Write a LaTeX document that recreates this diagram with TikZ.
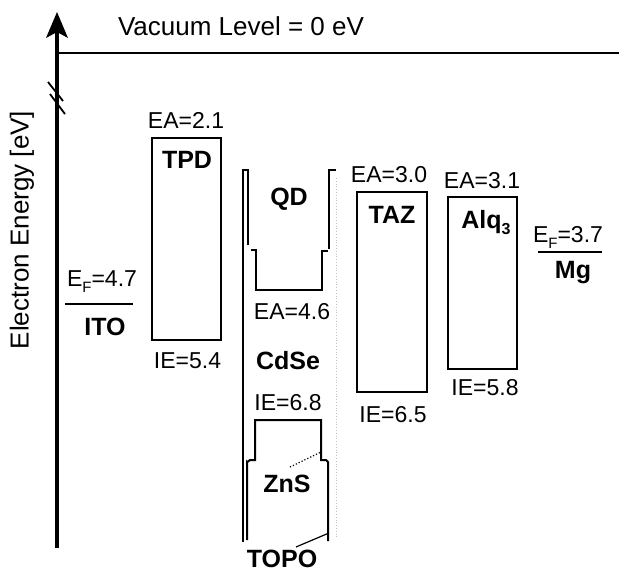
\documentclass[tikz,border=0pt]{standalone}
\usepackage{fontspec}
\setmainfont{Liberation Sans}
\newcommand{\subF}{\raisebox{-0.28em}{\fontsize{15}{15}\selectfont F}}
\begin{document}
\begin{tikzpicture}[x=1pt,y=-1pt,
  lab/.style={anchor=base,inner sep=0pt,font=\fontsize{23}{23}\selectfont},
  mat/.style={anchor=base,inner sep=0pt,font=\fontsize{25}{25}\selectfont\bfseries},
  band/.style={line width=2pt,line join=miter},
  thinl/.style={line width=1.2pt}]
\useasboundingbox (0,0) rectangle (619,573);

% energy axis
\coordinate (axb) at (56.5,548);
\coordinate (axt) at (56.5,32);
\coordinate (tip) at (57,12);
\draw[line width=4pt] (axb) -- (axt);
\fill (tip) -- (68,38) -- (57,32) -- (46,38) -- cycle;
\draw[line width=1.8pt] (48,82) -- (63,101);
\draw[line width=1.8pt] (50,94) -- (65,114);
\node[anchor=center,inner sep=0pt,rotate=90,font=\fontsize{26}{26}\selectfont] (axlab) at (22,230) {Electron Energy [eV]};

% vacuum level
\coordinate (vacL) at (57,53);
\coordinate (vacR) at (619,53);
\draw[line width=2pt] (vacL) -- (vacR);
\node[anchor=base,inner sep=0pt,font=\fontsize{26}{26}\selectfont] (vac) at (241,35) {Vacuum Level = 0 eV};

% ITO
\draw[line width=2pt] (65,304) -- (133,304);
\node[lab] (itoEF) at (102,286) {E\subF=4.7};
\node[mat] (ito) at (105,335) {ITO};

% TPD
\draw[band] (152,138) rectangle (221,340);
\node[lab] (tpdEA) at (186,128) {EA=2.1};
\node[mat] (tpd) at (187,168) {TPD};
\node[lab] (tpdIE) at (187.5,368) {IE=5.4};

% QD (CdSe / ZnS / TOPO)
\draw[thinl] (248,245) -- (248,170) -- (243,170) -- (243,542);
\draw[band] (251,250) -- (256,250) -- (256,290) -- (322,290) -- (322,251) -- (328,251);
\draw[band] (329,249) -- (329,170) -- (336,170);
\draw[band] (247,540) -- (247,462) to[out=-90,in=180] (250,460) -- (255,460) -- (255,420) -- (321,420) -- (321,460) -- (326,460) to[out=0,in=-90] (328,462) -- (328,541);
\draw[gray!50,dotted,line width=0.8pt] (336,178) -- (336,538);
\draw[line width=1.2pt,dotted] (290,467) -- (321,452);
\draw[line width=1.2pt] (296,547) -- (329,533);
\node[mat] (qd) at (289,205) {QD};
\node[lab] (qdEA) at (292,319) {EA=4.6};
\node[mat] (cdse) at (288,369) {CdSe};
\node[lab] (qdIE) at (288,410) {IE=6.8};
\node[mat] (zns) at (287,492) {ZnS};
\node[mat] (topo) at (282,567) {TOPO};

% TAZ
\draw[band] (357,192) rectangle (427,392);
\node[lab] (tazEA) at (389,182) {EA=3.0};
\node[mat] (taz) at (392,223) {TAZ};
\node[lab] (tazIE) at (393,422) {IE=6.5};

% Alq3
\draw[band] (448,197) rectangle (517,369);
\node[lab] (alqEA) at (482,188) {EA=3.1};
\node[mat] (alq) at (486,228) {Alq\raisebox{-0.25em}{\fontsize{16}{16}\selectfont 3}};
\node[lab] (alqIE) at (485,395) {IE=5.8};

% Mg
\draw[line width=2pt] (538,252) -- (602,252);
\node[lab] (mgEF) at (568,242) {E\subF=3.7};
\node[mat] (mg) at (573,278) {Mg};
\end{tikzpicture}
\end{document}
